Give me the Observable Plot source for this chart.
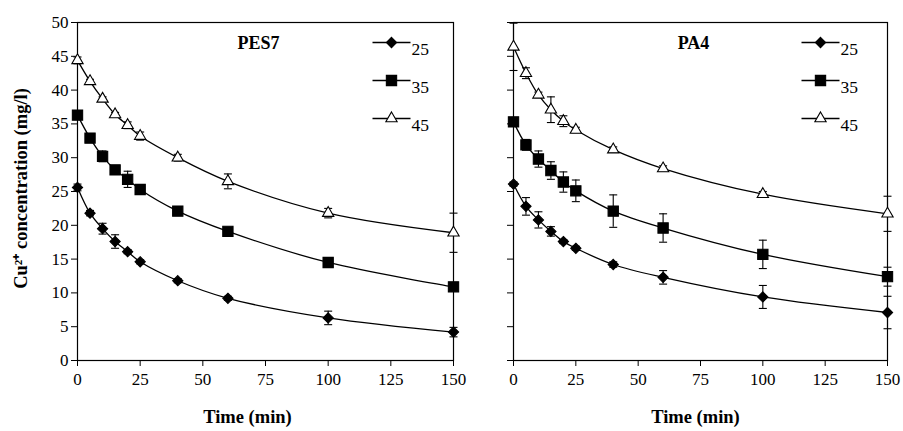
<!DOCTYPE html>
<html><head><meta charset="utf-8">
<script src="https://cdn.jsdelivr.net/npm/d3@7"></script>
<script src="https://cdn.jsdelivr.net/npm/@observablehq/plot@0.6"></script>
<style>
body{margin:0;background:#fff}
#wrap{display:flex;width:903px;height:431px;overflow:hidden}
#wrap svg{overflow:visible;background:none}
#wrap svg text{font-family:"Liberation Serif","Times New Roman",serif}
</style>
</head><body><div id="wrap"></div>
<script>
const times = [0, 5, 10, 15, 20, 25, 40, 60, 100, 150];
const seriesNames = ["25", "35", "45"];
const xTicks = [0, 25, 50, 75, 100, 125, 150];
const yTicks = [0, 5, 10, 15, 20, 25, 30, 35, 40, 45, 50];
const panelNames = ["PES7", "PA4"];
const xLabel = "Time (min)";
const yLabel = "Cu²⁺ concentration (mg/l)";

// PES7
const pes7_25 = [25.6, 21.8, 19.5, 17.6, 16.1, 14.6, 11.8, 9.2, 6.3, 4.2];
const pes7_25_err = [0.5, 0.4, 0.8, 1.0, 0.3, 0.3, 0.3, 0.3, 1.0, 0.7];
const pes7_35 = [36.3, 32.9, 30.2, 28.2, 26.8, 25.3, 22.1, 19.1, 14.5, 10.9];
const pes7_35_err = [0.5, 0.3, 0.8, 0.3, 1.2, 0.4, 0.3, 0.3, 0.5, 0.4];
const pes7_45 = [44.4, 41.3, 38.7, 36.4, 34.8, 33.2, 30.0, 26.5, 21.8, 18.9];
const pes7_45_err = [0.5, 0.3, 0.3, 0.3, 0.5, 0.6, 0.5, 1.1, 0.7, 2.9];

// PA4
const pa4_25 = [26.1, 22.8, 20.8, 19.1, 17.6, 16.6, 14.2, 12.3, 9.4, 7.1];
const pa4_25_err = [0.3, 1.3, 1.2, 0.7, 0.3, 0.3, 0.4, 1.0, 1.7, 2.4];
const pa4_35 = [35.3, 31.9, 29.8, 28.1, 26.4, 25.1, 22.1, 19.6, 15.7, 12.4];
const pa4_35_err = [0.5, 0.8, 1.2, 1.3, 1.5, 1.6, 2.4, 2.1, 2.1, 1.4];
const pa4_45 = [46.4, 42.5, 39.3, 37.1, 35.4, 34.1, 31.2, 28.4, 24.6, 21.7];
const pa4_45_err = [3.5, 0.8, 0.4, 1.9, 0.8, 0.4, 0.4, 0.4, 0.4, 2.6];

const FONT = "Liberation Serif";

function rowsFor(vals, errs) {
  const out = [];
  seriesNames.forEach((s, i) => {
    times.forEach((t, j) => out.push({s, t, c: vals[i][j], err: errs[i][j]}));
  });
  return out;
}

const capSym = {draw(ctx) { ctx.moveTo(-4, 0); ctx.lineTo(4, 0); }};
const legLine = {draw(ctx) { ctx.moveTo(-19, 0); ctx.lineTo(19, 0); }};
const styles = {
  "25": {symbol: "diamond2", r: 4.6, fill: "black", stroke: "black"},
  "35": {symbol: "square", r: 5.8, fill: "black", stroke: "black"},
  "45": {symbol: "triangle", r: 4.2, fill: "white", stroke: "black"}
};

function panel(opts) {
  const rows = rowsFor(opts.vals, opts.errs);
  const errRows = rows.filter(d => d.err > 0);
  const marks = [
    Plot.frame({stroke: "black", strokeWidth: 1.2}),
    Plot.axisX({ticks: xTicks, tickSize: 6, tickPadding: 6, label: null, fontSize: 17, fontFamily: FONT, tickFormat: d3.format("d")}),
    Plot.axisY({ticks: yTicks, tickSize: 6, tickPadding: 3, label: null, fontSize: 17, fontFamily: FONT,
      tickFormat: opts.showY ? d3.format("d") : () => ""}),
    Plot.ruleX(errRows, {x: "t", y1: d => d.c - d.err, y2: d => d.c + d.err, stroke: "black", strokeWidth: 1.1}),
    Plot.dot(errRows, {x: "t", y: d => d.c - d.err, symbol: capSym, r: 3, stroke: "black", strokeWidth: 1.1, fill: "none"}),
    Plot.dot(errRows, {x: "t", y: d => d.c + d.err, symbol: capSym, r: 3, stroke: "black", strokeWidth: 1.1, fill: "none"}),
    Plot.line(rows, {x: "t", y: "c", z: "s", curve: "catmull-rom", stroke: "black", strokeWidth: 1.3})
  ];
  seriesNames.forEach((s, i) => {
    const st = styles[s];
    marks.push(Plot.dot(rows.filter(d => d.s === s), {x: "t", y: "c", ...st, strokeWidth: 1.1}));
    // legend
    marks.push(Plot.dot([s], {frameAnchor: "top-right", dx: opts.legDx, dy: 20 + i * 38, symbol: legLine, r: 3, stroke: "black", strokeWidth: 1.3, fill: "none"}));
    marks.push(Plot.dot([s], {frameAnchor: "top-right", dx: opts.legDx, dy: 20 + i * 38, ...st, strokeWidth: 1.1}));
    marks.push(Plot.text([s], {frameAnchor: "top-right", text: d => d, dx: opts.legDx + 20, dy: 20 + i * 38, textAnchor: "start", fontSize: 17.5, fontFamily: FONT, fill: "black"}));
  });
  marks.push(Plot.text([opts.title], {frameAnchor: "top", text: d => d, dx: opts.titleDx, dy: 14, fontSize: 18, fontWeight: "bold", fontFamily: FONT, fill: "black"}));
  marks.push(Plot.text([xLabel], {frameAnchor: "bottom", text: d => d, dx: opts.xlabDx, dy: 62, fontSize: 18.5, fontWeight: "bold", fontFamily: FONT, fill: "black"}));
  if (opts.showY) {
    marks.push(Plot.text([yLabel], {frameAnchor: "left", text: d => d, rotate: -90, dx: -56, dy: -3, textAnchor: "middle", fontSize: 18.5, fontWeight: "bold", fontFamily: FONT, fill: "black"}));
  }
  return Plot.plot({
    width: opts.width, height: 431,
    marginLeft: opts.ml, marginRight: opts.mr, marginTop: 22, marginBottom: 71,
    x: {domain: [0, 150]},
    y: {domain: [0, 50]},
    style: {fontFamily: FONT, fontSize: "17px", color: "black", background: "none", overflow: "visible"},
    marks
  });
}

const wrap = document.getElementById("wrap");
wrap.appendChild(panel({title: panelNames[0], vals: [pes7_25, pes7_35, pes7_45], errs: [pes7_25_err, pes7_35_err, pes7_45_err],
  width: 460, ml: 77, mr: 7, showY: true, legDx: -62, titleDx: -7, xlabDx: -18}));
wrap.appendChild(panel({title: panelNames[1], vals: [pa4_25, pa4_35, pa4_45], errs: [pa4_25_err, pa4_35_err, pa4_45_err],
  width: 443, ml: 53, mr: 16, showY: false, legDx: -67, titleDx: -7, xlabDx: -5}));
</script>
</body></html>
